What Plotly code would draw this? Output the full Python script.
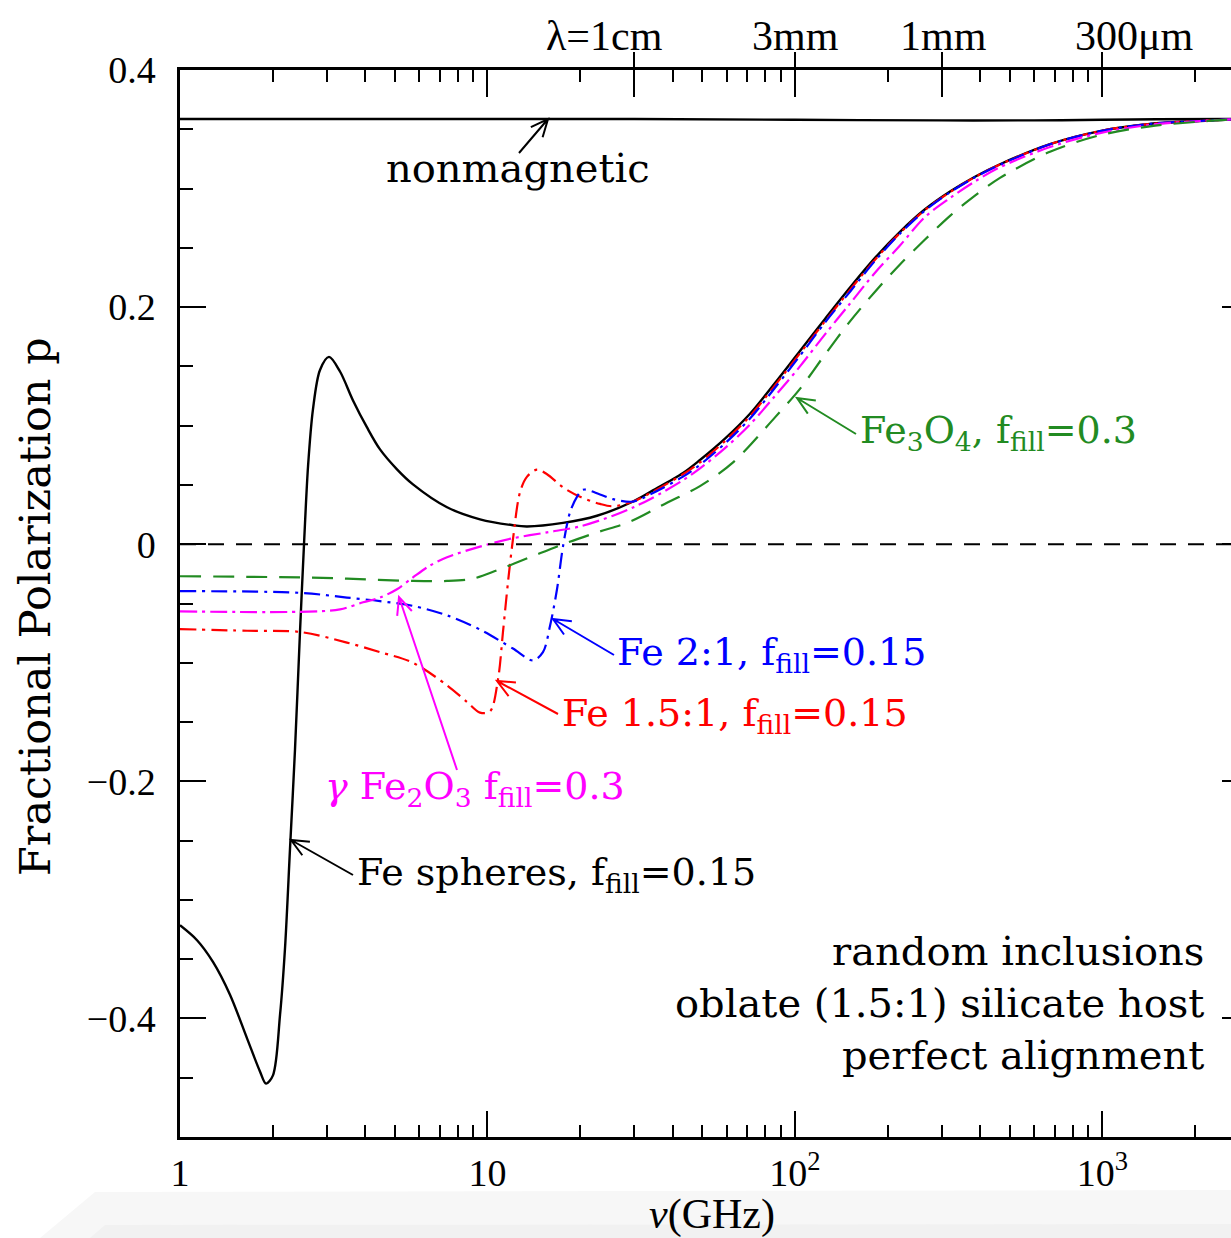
import math
import plotly.graph_objects as go

# ---------------- data ----------------
nu_nonmag = [1.0, 30, 100, 300, 600, 1000, 1500, 2618]
p_nonmag = [0.3587, 0.3587, 0.358, 0.3575, 0.3575, 0.358, 0.3585, 0.3587]

nu_fe_sph = [1.0, 1.136, 1.28, 1.454, 1.652, 1.82, 1.905, 2.006, 2.115, 2.195, 2.279, 2.366,
             2.456, 2.531, 2.609, 2.707, 2.853, 3.052, 3.314, 3.653, 4.057, 4.472, 5.078,
             5.724, 7.386, 9.455, 12.1, 13.45, 17.6, 22.7, 29.73, 33.78, 43.24, 49.1, 59.2,
             71.4, 86.1, 103.8, 125.2, 151.0, 182.1, 219.5, 264.8, 319.3, 384.9, 464.2,
             675.0, 981.5, 1427, 2076, 2618]
p_fe_sph = [-0.3214, -0.334, -0.3523, -0.380, -0.4168, -0.4447, -0.455, -0.448, -0.397, -0.341,
            -0.257, -0.173, -0.074, 0.0, 0.066, 0.114, 0.147, 0.158, 0.1457, 0.1213, 0.0985,
            0.080, 0.0632, 0.0505, 0.0312, 0.021, 0.016, 0.015, 0.018, 0.024, 0.036, 0.044,
            0.060, 0.071, 0.089, 0.110, 0.136, 0.163, 0.190, 0.2165, 0.2415, 0.2635, 0.2825,
            0.2975, 0.310, 0.3205, 0.3375, 0.3485, 0.3545, 0.357, 0.3583]

nu_fe15 = [1.0, 1.652, 2.456, 3.49, 4.472, 5.724, 7.386, 8.577, 9.455, 10.19, 10.82, 11.23,
           11.66, 12.1, 12.76, 13.45, 14.49, 15.62, 17.6, 19.99, 23.22, 25.59, 29.73, 33.78,
           43.24, 49.1, 59.2, 71.4, 86.1, 103.8, 125.2, 151.0, 182.1, 219.5, 264.8, 319.3,
           384.9, 464.2, 675.0, 981.5, 1427, 2076, 2618]
p_fe15 = [-0.0716, -0.073, -0.074, -0.083, -0.091, -0.100, -0.119, -0.133, -0.142, -0.141,
          -0.114, -0.074, -0.032, 0.004, 0.044, 0.057, 0.063, 0.059, 0.048, 0.040, 0.034,
          0.032, 0.036, 0.043, 0.059, 0.069, 0.087, 0.108, 0.134, 0.161, 0.188, 0.2145,
          0.240, 0.2625, 0.282, 0.297, 0.3097, 0.3203, 0.3374, 0.3485, 0.3545, 0.357, 0.3583]

nu_fe21 = [1.0, 2.456, 3.49, 4.472, 5.724, 7.386, 9.455, 12.1, 14.06, 15.15, 15.97, 16.83,
           17.6, 18.55, 19.54, 20.44, 23.22, 25.59, 29.73, 33.78, 43.24, 49.1, 59.2, 71.4,
           86.1, 103.8, 125.2, 151.0, 182.1, 219.5, 264.8, 319.3, 384.9, 464.2, 675.0,
           981.5, 1427, 2076, 2618]
p_fe21 = [-0.0396, -0.041, -0.045, -0.048, -0.052, -0.060, -0.072, -0.088, -0.098, -0.091,
          -0.069, -0.038, -0.002, 0.027, 0.040, 0.046, 0.042, 0.038, 0.036, 0.042, 0.057,
          0.067, 0.085, 0.106, 0.132, 0.159, 0.187, 0.213, 0.239, 0.262, 0.2815, 0.2968,
          0.3095, 0.320, 0.3373, 0.3484, 0.3545, 0.357, 0.3583]

nu_gfe2o3 = [1.0, 2.456, 3.314, 3.94, 4.472, 5.078, 5.724, 6.502, 7.386, 9.455, 12.1, 15.62,
             19.99, 25.59, 29.73, 33.78, 43.24, 49.1, 59.2, 71.4, 86.1, 103.8, 125.2, 151.0,
             182.1, 219.5, 264.8, 319.3, 384.9, 464.2, 675.0, 981.5, 1427, 2076, 2618]
p_gfe2o3 = [-0.0567, -0.057, -0.055, -0.049, -0.045, -0.038, -0.028, -0.018, -0.011, -0.002,
            0.005, 0.010, 0.015, 0.024, 0.031, 0.038, 0.054, 0.064, 0.081, 0.101, 0.125,
            0.150, 0.177, 0.203, 0.229, 0.252, 0.276, 0.292, 0.306, 0.318, 0.335, 0.3468,
            0.3537, 0.357, 0.3583]

nu_fe3o4 = [1.0, 2.456, 3.49, 5.724, 7.386, 8.97, 10.74, 13.75, 17.6, 22.7, 29.07, 38.35,
            49.1, 62.9, 86.1, 103.8, 125.2, 151.0, 182.1, 219.5, 264.8, 319.3, 384.9, 464.2,
            675.0, 981.5, 1427, 2076, 2618]
p_fe3o4 = [-0.027, -0.028, -0.029, -0.031, -0.031, -0.029, -0.022, -0.011, 0.000, 0.010,
           0.019, 0.035, 0.049, 0.069, 0.107, 0.131, 0.160, 0.188, 0.213, 0.236, 0.257,
           0.277, 0.294, 0.309, 0.331, 0.345, 0.3525, 0.3565, 0.3583]

x_major_ticks = [1, 10, 100, 1000]
x_major_text = ["1", "10", "10<sup>2</sup>", "10<sup>3</sup>"]
x_minor_ticks = [2, 3, 4, 5, 6, 7, 8, 9, 20, 30, 40, 50, 60, 70, 80, 90,
                 200, 300, 400, 500, 600, 700, 800, 900, 2000]
top_major_ticks = [10, 30, 100, 300, 1000]
top_minor_ticks = [2, 3, 4, 5, 6, 7, 8, 9, 20, 40, 50, 60, 70, 80, 90,
                   200, 400, 500, 600, 700, 800, 900, 2000]
lam_ticks = [30, 100, 300, 1000]
lam_text = ["λ=1cm", "3mm", "1mm", "300μm"]
y_major_ticks = [-0.4, -0.2, 0.0, 0.2, 0.4]
y_major_text = ["−0.4", "−0.2", "0", "0.2", "0.4"]
y_minor_ticks = [-0.45, -0.35, -0.3, -0.25, -0.15, -0.1, -0.05, 0.05, 0.1, 0.15, 0.25, 0.3, 0.35]

# ---------------- layout geometry ----------------
W, H = 1231, 1238
ML, MR, MT, MB = 180, 0, 70, 101
XLOG = [0.0, 3.418]
YR = [-0.5, 0.4]
SERIF = "DejaVu Serif"
TICKF = "Liberation Serif"


def xd(px):
    return XLOG[0] + (px - ML) / (W - ML - MR) * (XLOG[1] - XLOG[0])


def yd(py):
    return YR[0] + (H - MB - py) / (H - MT - MB) * (YR[1] - YR[0])


def xp(px):
    return (px - ML) / (W - ML - MR)


def yp(py):
    return (H - MB - py) / (H - MT - MB)


fig = go.Figure()


def add_line(nu, p, color, dash, width=2.2):
    fig.add_trace(go.Scatter(x=nu, y=p, mode="lines",
                             line=dict(color=color, dash=dash, width=width,
                                       shape="spline", smoothing=0.9),
                             hoverinfo="skip", showlegend=False))


add_line(nu_nonmag, p_nonmag, "black", "solid", 2.4)
add_line(nu_fe_sph, p_fe_sph, "black", "solid", 2.4)
add_line(nu_fe15, p_fe15, "#ff0000", "16px,6px,3px,6px")
add_line(nu_fe21, p_fe21, "#0000ff", "16px,6px,3px,6px")
add_line(nu_gfe2o3, p_gfe2o3, "#ff00ff", "17px,5px,3px,5px")
add_line(nu_fe3o4, p_fe3o4, "#228b22", "21px,12px")

# dummy traces so the extra axes are drawn
fig.add_trace(go.Scatter(x=[], y=[], xaxis="x2", yaxis="y", showlegend=False))
fig.add_trace(go.Scatter(x=[], y=[], xaxis="x3", yaxis="y", showlegend=False))
fig.add_trace(go.Scatter(x=[], y=[], xaxis="x", yaxis="y2", showlegend=False))

tickfont = dict(family=TICKF, size=38, color="black")
fig.update_layout(
    width=W, height=H,
    margin=dict(l=ML, r=MR, t=MT, b=MB, pad=0),
    paper_bgcolor="white", plot_bgcolor="white",
    showlegend=False,
    xaxis=dict(type="log", range=XLOG, showgrid=False, zeroline=False,
               showline=True, linecolor="black", linewidth=2.5, mirror=True,
               ticks="inside", ticklen=26, tickwidth=2, tickcolor="black",
               tickmode="array", tickvals=x_major_ticks, ticktext=x_major_text,
               tickfont=tickfont, ticklabelstandoff=1,
               minor=dict(ticks="inside", ticklen=12, tickwidth=2, tickcolor="black",
                          tickmode="array", tickvals=x_minor_ticks, showgrid=False)),
    xaxis2=dict(type="log", range=XLOG, overlaying="x", side="top", anchor="y",
                showgrid=False, zeroline=False, showline=False,
                ticks="inside", ticklen=27, tickwidth=2, tickcolor="black",
                tickmode="array", tickvals=top_major_ticks, showticklabels=False,
                minor=dict(ticks="inside", ticklen=12, tickwidth=2, tickcolor="black",
                           tickmode="array", tickvals=top_minor_ticks, showgrid=False)),
    xaxis3=dict(type="log", range=XLOG, overlaying="x", side="top", anchor="y",
                showgrid=False, zeroline=False, showline=False,
                ticks="outside", ticklen=17, tickwidth=2, tickcolor="black",
                tickmode="array", tickvals=lam_ticks, showticklabels=False),
    yaxis=dict(range=YR, showgrid=False, zeroline=False,
               showline=True, linecolor="black", linewidth=2.5,
               ticks="inside", ticklen=26, tickwidth=2, tickcolor="black",
               tickmode="array", tickvals=y_major_ticks, ticktext=y_major_text,
               tickfont=tickfont, ticklabelstandoff=14,
               minor=dict(ticks="inside", ticklen=13, tickwidth=2, tickcolor="black",
                          tickmode="array", tickvals=y_minor_ticks, showgrid=False)),
    yaxis2=dict(range=YR, overlaying="y", side="right", anchor="x",
                showgrid=False, zeroline=False, showline=False,
                ticks="inside", ticklen=9, tickwidth=2, tickcolor="black",
                tickmode="array", tickvals=y_major_ticks, showticklabels=False),
)

# zero line (dashed)
fig.add_shape(type="line", xref="paper", yref="y", x0=0, x1=1, y0=0, y1=0,
              line=dict(color="black", width=2, dash="16px,12px"), layer="above")

# faint page shading at the bottom of the picture
fig.add_shape(type="path", xref="paper", yref="paper", layer="below",
              path=f"M {xp(40)},{yp(1238)} L {xp(95)},{yp(1192)} L {xp(1231)},{yp(1190)} "
                   f"L {xp(1231)},{yp(1238)} Z",
              fillcolor="#f7f7f7", line=dict(width=0))
fig.add_shape(type="path", xref="paper", yref="paper", layer="below",
              path=f"M {xp(90)},{yp(1238)} L {xp(105)},{yp(1225)} L {xp(1231)},{yp(1224)} "
                   f"L {xp(1231)},{yp(1238)} Z",
              fillcolor="#f1f1f1", line=dict(width=0))

# pointer arrows with open V heads: (tip px, tip py, tail px, tail py, color)
arrows = [
    (548, 119, 519, 153, "black"),
    (797, 398, 856, 434, "#228b22"),
    (553, 619, 614, 655, "#0000ff"),
    (497, 681, 558, 714, "#ff0000"),
    (399, 597, 457, 770, "#ff00ff"),
    (291, 840, 353, 875, "black"),
]
HEAD_LEN, HEAD_ANG = 19.0, math.radians(24)
for tx, ty, sx, sy, c in arrows:
    ang = math.atan2(sy - ty, sx - tx)
    a1 = (tx + HEAD_LEN * math.cos(ang + HEAD_ANG), ty + HEAD_LEN * math.sin(ang + HEAD_ANG))
    a2 = (tx + HEAD_LEN * math.cos(ang - HEAD_ANG), ty + HEAD_LEN * math.sin(ang - HEAD_ANG))
    path = (f"M {xp(sx)},{yp(sy)} L {xp(tx)},{yp(ty)} "
            f"M {xp(a1[0])},{yp(a1[1])} L {xp(tx)},{yp(ty)} L {xp(a2[0])},{yp(a2[1])}")
    fig.add_shape(type="path", xref="paper", yref="paper", path=path, layer="above",
                  line=dict(color=c, width=2))

ann = []
labf = 38
labels = [
    ("nonmagnetic", 518, 168, "center", "black", 40),
    ("Fe<sub>3</sub>O<sub>4</sub>, f<sub>fill</sub>=0.3", 858, 432, "left", "#228b22", labf),
    ("Fe 2:1, f<sub>fill</sub>=0.15", 615, 654, "left", "#0000ff", labf),
    ("Fe 1.5:1, f<sub>fill</sub>=0.15", 560, 715, "left", "#ff0000", labf),
    ("<i>γ</i> Fe<sub>2</sub>O<sub>3</sub> f<sub>fill</sub>=0.3", 323, 788, "left", "#ff00ff", labf),
    ("Fe spheres, f<sub>fill</sub>=0.15", 355, 874, "left", "black", labf),
]
for t, px, py, anc, c, fs in labels:
    ann.append(dict(x=xd(px), y=yd(py), xref="x", yref="y", text=t, showarrow=False,
                    xanchor=anc, yanchor="middle",
                    font=dict(family=SERIF, size=fs, color=c)))

block_lines = ["random inclusions", "oblate (1.5:1) silicate host", "perfect alignment"]
ann.append(dict(x=xd(1206), y=yd(1003), xref="x", yref="y", text="<br>".join(block_lines),
                showarrow=False, xanchor="right", yanchor="middle", align="right",
                font=dict(family=SERIF, size=40, color="black")))

# wavelength labels on top
lam_centers = [604, 795, 943, 1134]
for t, cx in zip(lam_text, lam_centers):
    ann.append(dict(x=xp(cx), y=yp(36), xref="paper", yref="paper", text=t,
                    showarrow=False, xanchor="center", yanchor="middle",
                    font=dict(family=TICKF, size=42, color="black")))

# axis titles
ann.append(dict(x=xp(35), y=yp(607), xref="paper", yref="paper",
                text="Fractional Polarization p", textangle=-90, showarrow=False,
                xanchor="center", yanchor="middle",
                font=dict(family=SERIF, size=43, color="black")))
ann.append(dict(x=xp(712), y=yp(1214), xref="paper", yref="paper",
                text="<i>ν</i>(GHz)", showarrow=False, xanchor="center", yanchor="middle",
                font=dict(family=TICKF, size=42, color="black")))

fig.update_layout(annotations=ann)
fig.write_html("out.html", config={"displayModeBar": False},
               post_script="document.body.style.margin='0px';")
